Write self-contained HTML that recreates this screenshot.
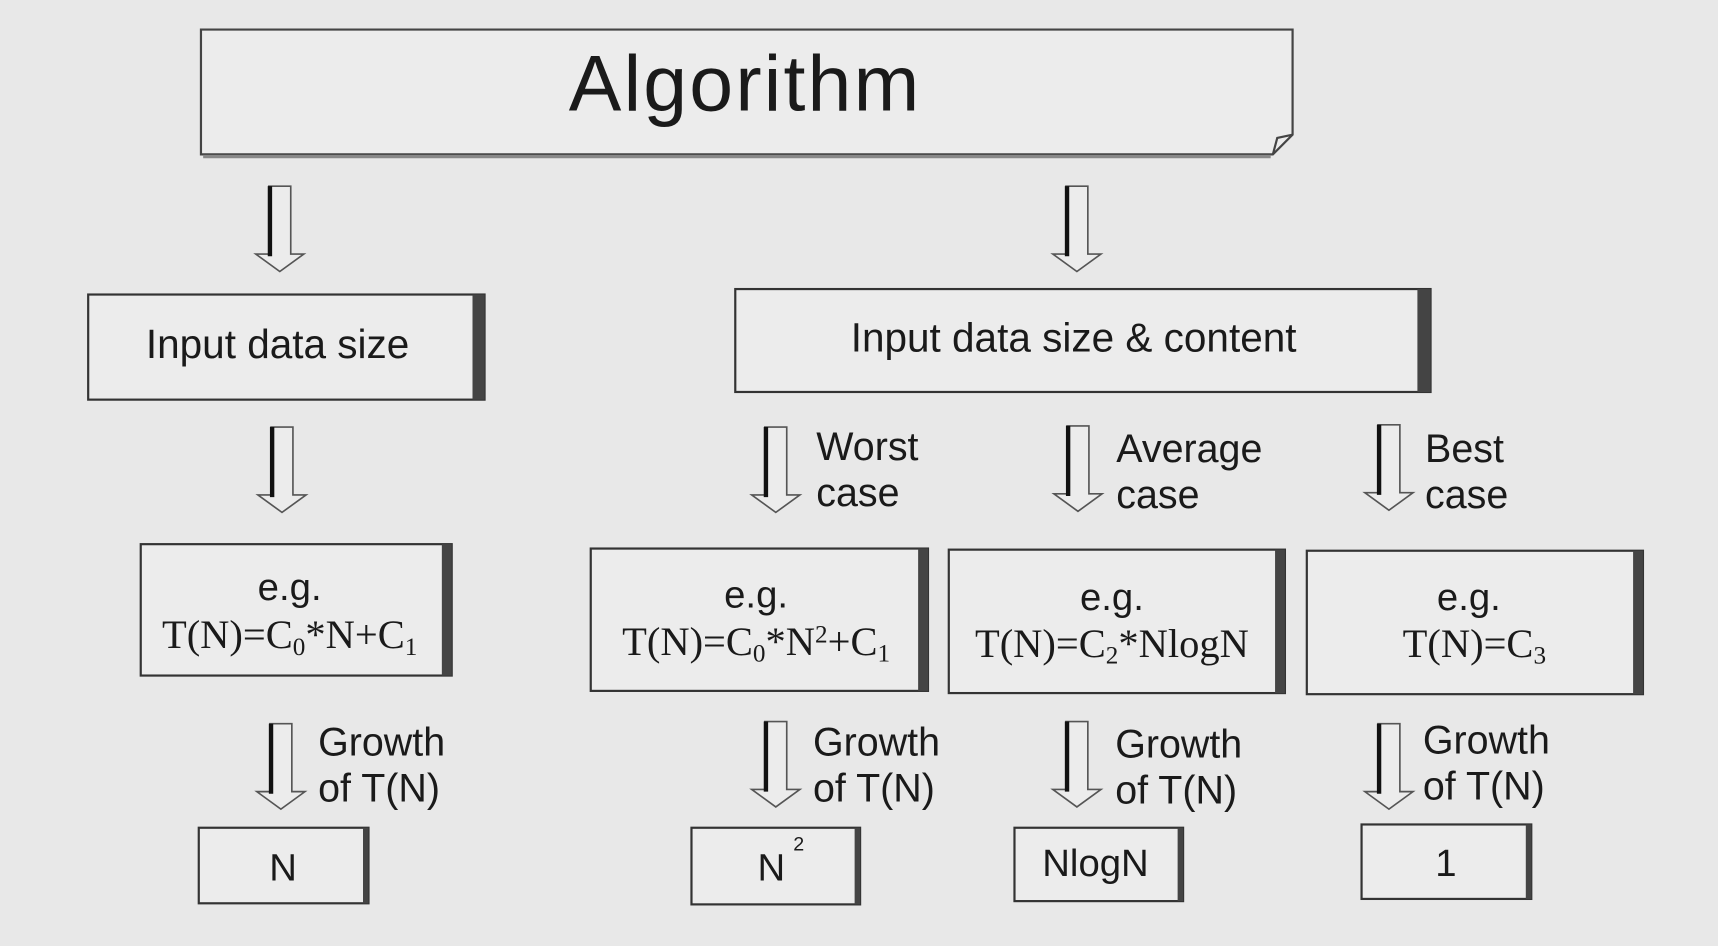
<!DOCTYPE html>
<html><head><meta charset="utf-8"><style>
html,body{margin:0;padding:0;background:#e8e8e8;}
svg{display:block}
text{fill:#1a1a1a}
.s{font-family:"Liberation Sans",sans-serif}
.r{font-family:"Liberation Serif",serif}
</style></head><body>
<svg width="1718" height="946" viewBox="0 0 1568 864" xmlns="http://www.w3.org/2000/svg">
<defs>
<g id="arr">
<path d="M-10,0 L10,0 L10,62 L22,62 L0,78 L-22,62 L-10,62 Z" fill="#ececec" stroke="#555" stroke-width="1.5"/>
<line x1="-9" y1="0" x2="-9" y2="64" stroke="#111" stroke-width="4"/>
</g>
</defs>
<rect width="1568" height="864" fill="#e8e8e8"/>
<path d="M183,27 L1180,27 L1180,123 L1162,141 L183,141 Z" fill="#ececec" stroke="#444" stroke-width="2"/>
<path d="M1162,141 L1166,126 L1180,123" fill="none" stroke="#444" stroke-width="2"/>
<line x1="185" y1="143" x2="1160" y2="143" stroke="#888" stroke-width="3"/>
<text x="680" y="101" font-size="72" letter-spacing="2" text-anchor="middle" class="s">Algorithm</text>

<use href="#arr" x="255" y="170"/>
<use href="#arr" x="983" y="170"/>

<rect x="80" y="269" width="362" height="96" fill="#ececec" stroke="#333" stroke-width="2"/>
<rect x="431" y="269" width="11" height="96" fill="#444"/>
<text x="253" y="327" font-size="37" text-anchor="middle" class="s">Input data size</text>
<rect x="671" y="264" width="635" height="94" fill="#ececec" stroke="#333" stroke-width="2"/>
<rect x="1294" y="264" width="12" height="94" fill="#444"/>
<text x="980" y="321" font-size="37" text-anchor="middle" class="s">Input data size &amp; content</text>

<use href="#arr" x="257" y="390"/>
<use href="#arr" x="708" y="390"/>
<use href="#arr" x="984" y="389"/>
<use href="#arr" x="1268" y="388"/>
<g font-size="36" class="s">
<text x="745" y="420">Worst</text><text x="745" y="462">case</text>
<text x="1019" y="422">Average</text><text x="1019" y="464">case</text>
<text x="1301" y="422">Best</text><text x="1301" y="464">case</text>
</g>

<g fill="#ececec" stroke="#333" stroke-width="2">
<rect x="128" y="497" width="284" height="120"/>
<rect x="539" y="501" width="308" height="130"/>
<rect x="866" y="502" width="307" height="131"/>
<rect x="1193" y="503" width="307" height="131"/>
</g>
<g fill="#444">
<rect x="403" y="497" width="9" height="120"/>
<rect x="838" y="501" width="9" height="130"/>
<rect x="1164" y="502" width="9" height="131"/>
<rect x="1491" y="503" width="9" height="131"/>
</g>
<g font-size="35" text-anchor="middle" class="s">
<text x="264" y="548">e.g.</text>
<text x="690" y="555">e.g.</text>
<text x="1015" y="557">e.g.</text>
<text x="1341" y="557">e.g.</text>
</g>
<g font-size="37" text-anchor="middle" class="r">
<text x="264" y="592">T(N)=C<tspan font-size="23" dy="6">0</tspan><tspan dy="-6">*N+C</tspan><tspan font-size="23" dy="6">1</tspan></text>
<text x="690" y="598">T(N)=C<tspan font-size="23" dy="6">0</tspan><tspan dy="-6">*N</tspan><tspan font-size="23" dy="-11">2</tspan><tspan dy="11">+C</tspan><tspan font-size="23" dy="6">1</tspan></text>
<text x="1015" y="600">T(N)=C<tspan font-size="23" dy="6">2</tspan><tspan dy="-6">*NlogN</tspan></text>
<text x="1346" y="600">T(N)=C<tspan font-size="23" dy="6">3</tspan></text>
</g>

<use href="#arr" x="256" y="661"/>
<use href="#arr" x="708" y="659"/>
<use href="#arr" x="983" y="659"/>
<use href="#arr" x="1268" y="661"/>
<g font-size="36" class="s">
<text x="290" y="690">Growth</text><text x="290" y="732">of T(N)</text>
<text x="742" y="690">Growth</text><text x="742" y="732">of T(N)</text>
<text x="1018" y="692">Growth</text><text x="1018" y="734">of T(N)</text>
<text x="1299" y="688">Growth</text><text x="1299" y="730">of T(N)</text>
</g>

<g fill="#ececec" stroke="#333" stroke-width="2">
<rect x="181" y="756" width="155" height="69"/>
<rect x="631" y="756" width="154" height="70"/>
<rect x="926" y="756" width="154" height="67"/>
<rect x="1243" y="753" width="155" height="68"/>
</g>
<g fill="#444">
<rect x="331" y="756" width="5" height="69"/>
<rect x="780" y="756" width="5" height="70"/>
<rect x="1075" y="756" width="5" height="67"/>
<rect x="1393" y="753" width="5" height="68"/>
</g>
<g font-size="35" text-anchor="middle" class="s">
<text x="258" y="804">N</text>
<text x="704" y="804">N</text>
<text x="729" y="777" font-size="18">2</text>
<text x="1000" y="800">NlogN</text>
<text x="1320" y="800">1</text>
</g>
</svg>
</body></html>
